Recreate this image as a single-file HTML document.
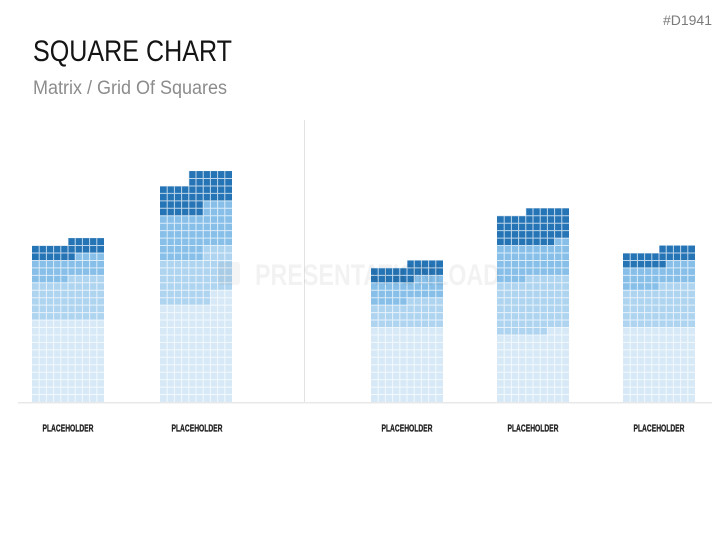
<!DOCTYPE html>
<html>
<head>
<meta charset="utf-8">
<style>
  html, body { margin: 0; padding: 0; background: #ffffff; }
  svg { display: block; }
  text { font-family: "Liberation Sans", sans-serif; }
</style>
</head>
<body>
<svg width="727" height="545" viewBox="0 0 727 545" xmlns="http://www.w3.org/2000/svg">
  <rect x="0" y="0" width="727" height="545" fill="#ffffff"/>

  <!-- Header -->
  <text x="663" y="25" font-size="14" fill="#7a7a7a" textLength="49" lengthAdjust="spacingAndGlyphs">#D1941</text>
  <text x="33" y="61" font-size="30" fill="#141414" textLength="199" lengthAdjust="spacingAndGlyphs">SQUARE CHART</text>
  <text x="33" y="94" font-size="19" fill="#8c8c8c" textLength="194" lengthAdjust="spacingAndGlyphs">Matrix / Grid Of Squares</text>

  <!-- divider and baseline -->
  <line x1="304.5" y1="120" x2="304.5" y2="402" stroke="#e2e2e2" stroke-width="1"/>
  <line x1="18" y1="402.8" x2="712" y2="402.8" stroke="#e0e0e0" stroke-width="1.2"/>

  <!-- Bar 1 -->
  <g transform="translate(32,402) scale(7.2,-7.45)">
    <rect x="0" y="0" width="10" height="11" fill="#d7e9f7"/>
    <rect x="0" y="11" width="5" height="5" fill="#afd4f0"/>
    <rect x="5" y="11" width="5" height="6" fill="#afd4f0"/>
    <rect x="0" y="16" width="5" height="3" fill="#87bfe9"/>
    <rect x="5" y="17" width="1" height="2" fill="#87bfe9"/>
    <rect x="6" y="17" width="4" height="3" fill="#87bfe9"/>
    <rect x="0" y="19" width="5" height="2" fill="#2574b5"/>
    <rect x="5" y="19" width="1" height="3" fill="#2574b5"/>
    <rect x="6" y="20" width="4" height="2" fill="#2574b5"/>
    <g stroke="#ffffff" stroke-opacity="0.7" stroke-width="1">
      <path vector-effect="non-scaling-stroke" d="M1 0V22M2 0V22M3 0V22M4 0V22M5 0V22M6 0V22M7 0V22M8 0V22M9 0V22
      M0 1H10M0 2H10M0 3H10M0 4H10M0 5H10M0 6H10M0 7H10M0 8H10M0 9H10M0 10H10M0 11H10M0 12H10M0 13H10M0 14H10M0 15H10M0 16H10M0 17H10M0 18H10M0 19H10M0 20H10M0 21H10"/>
    </g>
  </g>

  <!-- Bar 2 -->
  <g transform="translate(160,402) scale(7.2,-7.45)">
    <rect x="0" y="0" width="10" height="13" fill="#d7e9f7"/>
    <rect x="7" y="13" width="3" height="2" fill="#d7e9f7"/>
    <rect x="0" y="13" width="6" height="6" fill="#afd4f0"/>
    <rect x="6" y="13" width="1" height="8" fill="#afd4f0"/>
    <rect x="7" y="15" width="3" height="6" fill="#afd4f0"/>
    <rect x="0" y="19" width="6" height="6" fill="#87bfe9"/>
    <rect x="6" y="21" width="4" height="6" fill="#87bfe9"/>
    <rect x="0" y="25" width="4" height="4" fill="#2574b5"/>
    <rect x="4" y="25" width="2" height="6" fill="#2574b5"/>
    <rect x="6" y="27" width="4" height="4" fill="#2574b5"/>
    <g stroke="#ffffff" stroke-opacity="0.7" stroke-width="1">
      <path vector-effect="non-scaling-stroke" d="M1 0V31M2 0V31M3 0V31M4 0V31M5 0V31M6 0V31M7 0V31M8 0V31M9 0V31
      M0 1H10M0 2H10M0 3H10M0 4H10M0 5H10M0 6H10M0 7H10M0 8H10M0 9H10M0 10H10M0 11H10M0 12H10M0 13H10M0 14H10M0 15H10M0 16H10M0 17H10M0 18H10M0 19H10M0 20H10M0 21H10M0 22H10M0 23H10M0 24H10M0 25H10M0 26H10M0 27H10M0 28H10M0 29H10M0 30H10"/>
    </g>
  </g>

  <!-- Bar 3 -->
  <g transform="translate(371,402) scale(7.2,-7.45)">
    <rect x="0" y="0" width="10" height="10" fill="#d7e9f7"/>
    <rect x="0" y="10" width="5" height="3" fill="#afd4f0"/>
    <rect x="5" y="10" width="5" height="4" fill="#afd4f0"/>
    <rect x="0" y="13" width="5" height="3" fill="#87bfe9"/>
    <rect x="5" y="14" width="1" height="2" fill="#87bfe9"/>
    <rect x="6" y="14" width="4" height="3" fill="#87bfe9"/>
    <rect x="0" y="16" width="5" height="2" fill="#2574b5"/>
    <rect x="5" y="16" width="1" height="3" fill="#2574b5"/>
    <rect x="6" y="17" width="4" height="2" fill="#2574b5"/>
    <g stroke="#ffffff" stroke-opacity="0.7" stroke-width="1">
      <path vector-effect="non-scaling-stroke" d="M1 0V19M2 0V19M3 0V19M4 0V19M5 0V19M6 0V19M7 0V19M8 0V19M9 0V19
      M0 1H10M0 2H10M0 3H10M0 4H10M0 5H10M0 6H10M0 7H10M0 8H10M0 9H10M0 10H10M0 11H10M0 12H10M0 13H10M0 14H10M0 15H10M0 16H10M0 17H10M0 18H10"/>
    </g>
  </g>

  <!-- Bar 4 -->
  <g transform="translate(497,402) scale(7.2,-7.45)">
    <rect x="0" y="0" width="10" height="9" fill="#d7e9f7"/>
    <rect x="7" y="9" width="3" height="1" fill="#d7e9f7"/>
    <rect x="0" y="9" width="4" height="7" fill="#afd4f0"/>
    <rect x="4" y="9" width="3" height="8" fill="#afd4f0"/>
    <rect x="7" y="10" width="3" height="7" fill="#afd4f0"/>
    <rect x="0" y="16" width="4" height="5" fill="#87bfe9"/>
    <rect x="4" y="17" width="4" height="4" fill="#87bfe9"/>
    <rect x="8" y="17" width="2" height="5" fill="#87bfe9"/>
    <rect x="0" y="21" width="4" height="4" fill="#2574b5"/>
    <rect x="4" y="21" width="4" height="5" fill="#2574b5"/>
    <rect x="8" y="22" width="2" height="4" fill="#2574b5"/>
    <g stroke="#ffffff" stroke-opacity="0.7" stroke-width="1">
      <path vector-effect="non-scaling-stroke" d="M1 0V26M2 0V26M3 0V26M4 0V26M5 0V26M6 0V26M7 0V26M8 0V26M9 0V26
      M0 1H10M0 2H10M0 3H10M0 4H10M0 5H10M0 6H10M0 7H10M0 8H10M0 9H10M0 10H10M0 11H10M0 12H10M0 13H10M0 14H10M0 15H10M0 16H10M0 17H10M0 18H10M0 19H10M0 20H10M0 21H10M0 22H10M0 23H10M0 24H10M0 25H10"/>
    </g>
  </g>

  <!-- Bar 5 -->
  <g transform="translate(623,402) scale(7.2,-7.45)">
    <rect x="0" y="0" width="10" height="10" fill="#d7e9f7"/>
    <rect x="0" y="10" width="5" height="5" fill="#afd4f0"/>
    <rect x="5" y="10" width="5" height="6" fill="#afd4f0"/>
    <rect x="0" y="15" width="5" height="3" fill="#87bfe9"/>
    <rect x="5" y="16" width="1" height="2" fill="#87bfe9"/>
    <rect x="6" y="16" width="4" height="3" fill="#87bfe9"/>
    <rect x="0" y="18" width="5" height="2" fill="#2574b5"/>
    <rect x="5" y="18" width="1" height="3" fill="#2574b5"/>
    <rect x="6" y="19" width="4" height="2" fill="#2574b5"/>
    <g stroke="#ffffff" stroke-opacity="0.7" stroke-width="1">
      <path vector-effect="non-scaling-stroke" d="M1 0V21M2 0V21M3 0V21M4 0V21M5 0V21M6 0V21M7 0V21M8 0V21M9 0V21
      M0 1H10M0 2H10M0 3H10M0 4H10M0 5H10M0 6H10M0 7H10M0 8H10M0 9H10M0 10H10M0 11H10M0 12H10M0 13H10M0 14H10M0 15H10M0 16H10M0 17H10M0 18H10M0 19H10M0 20H10"/>
    </g>
  </g>

  <!-- Watermark -->
  <rect x="218" y="262" width="22" height="23" rx="3" fill="#000000" fill-opacity="0.04"/>
  <text x="255" y="285" font-size="30" font-weight="bold" fill="#000000" fill-opacity="0.05" textLength="245" lengthAdjust="spacingAndGlyphs">PRESENTATIONLOAD</text>

  <!-- Labels -->
  <g font-size="10" font-weight="bold" fill="#1e1e1e" stroke="#1e1e1e" stroke-width="0.3" text-anchor="middle">
    <text x="68" y="431.7" textLength="51" lengthAdjust="spacingAndGlyphs">PLACEHOLDER</text>
    <text x="197" y="431.7" textLength="51" lengthAdjust="spacingAndGlyphs">PLACEHOLDER</text>
    <text x="407" y="431.7" textLength="51" lengthAdjust="spacingAndGlyphs">PLACEHOLDER</text>
    <text x="533" y="431.7" textLength="51" lengthAdjust="spacingAndGlyphs">PLACEHOLDER</text>
    <text x="659" y="431.7" textLength="51" lengthAdjust="spacingAndGlyphs">PLACEHOLDER</text>
  </g>
</svg>
</body>
</html>
